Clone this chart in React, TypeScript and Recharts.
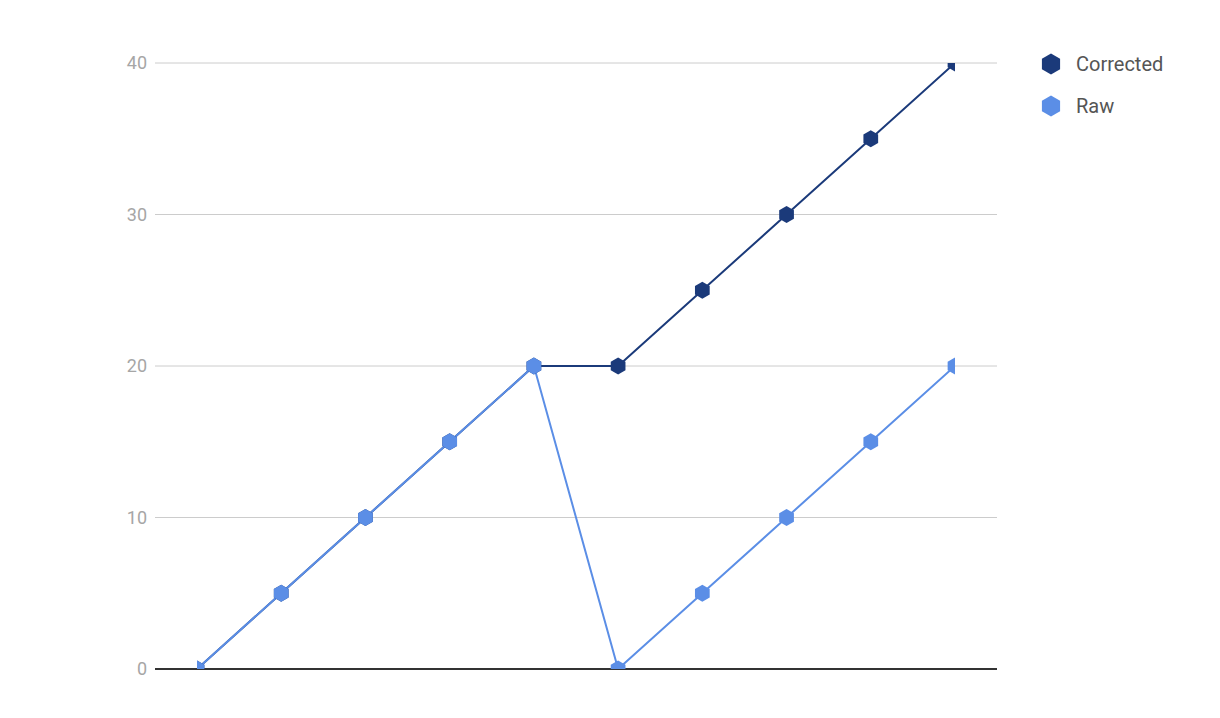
import React from 'react';
import { LineChart, Line, XAxis, YAxis, CartesianGrid } from 'recharts';

const categories = ['1', '2', '3', '4', '5', '6', '7', '8', '9', '10'];
const correctedValues = [0, 5, 10, 15, 20, 20, 25, 30, 35, 40];
const rawValues = [0, 5, 10, 15, 20, 0, 5, 10, 15, 20];
const yTicks = [0, 10, 20, 30, 40];
const seriesNames = ['Corrected', 'Raw'];
const seriesColors = ['#1b3a7a', '#5b8ee6'];

const data = categories.map((c, i) => ({
  name: c,
  corrected: correctedValues[i],
  raw: rawValues[i],
}));

const hexPoints = (cx: number, cy: number, r: number) => {
  const pts: string[] = [];
  for (let k = 0; k < 6; k++) {
    const a = (Math.PI / 3) * k - Math.PI / 2;
    pts.push(`${cx + r * Math.cos(a)},${cy + r * Math.sin(a)}`);
  }
  return pts.join(' ');
};

const HexDot = (color: string) => (props: any) => {
  const { cx, cy, index } = props;
  if (cx == null || cy == null) return <g key={index} />;
  return <polygon key={index} points={hexPoints(cx, cy, 8.5)} fill={color} stroke="none" />;
};

export default function App() {
  return (
    <div style={{ position: 'absolute', left: 0, top: 0, width: 1220, height: 718, background: '#fff', fontFamily: 'Roboto, sans-serif' }}>
      <LineChart width={1220} height={718} data={data} margin={{ top: 63, right: 223, bottom: 48, left: 95 }}>
        <CartesianGrid vertical={false} stroke="#cccccc" strokeWidth={1} />
        <XAxis
          dataKey="name"
          tick={false}
          tickLine={false}
          axisLine={{ stroke: '#333333', strokeWidth: 2 }}
          height={1}
          padding={{ left: 42, right: 42 }}
          allowDataOverflow
        />
        <YAxis
          domain={[0, 40]}
          ticks={yTicks}
          allowDataOverflow
          axisLine={false}
          tickLine={false}
          width={60}
          tickMargin={2}
          tick={{ fill: '#a6a6a6', fontSize: 18, fontFamily: 'Roboto, sans-serif' }}
        />
        <Line
          dataKey="corrected"
          name={seriesNames[0]}
          stroke={seriesColors[0]}
          strokeWidth={2}
          dot={HexDot(seriesColors[0])}
          activeDot={false}
          isAnimationActive={false}
        />
        <Line
          dataKey="raw"
          name={seriesNames[1]}
          stroke={seriesColors[1]}
          strokeWidth={2}
          dot={HexDot(seriesColors[1])}
          activeDot={false}
          isAnimationActive={false}
        />
      </LineChart>
      <div style={{ position: 'absolute', left: 1040, top: 52 }}>
        {seriesNames.map((n, i) => (
          <div key={n} style={{ display: 'flex', alignItems: 'center', height: 24, marginBottom: 18 }}>
            <svg width={22} height={24} style={{ marginRight: 14 }}>
              <polygon points={hexPoints(11, 12, 10.5)} fill={seriesColors[i]} />
            </svg>
            <span style={{ fontSize: 20, color: '#555555', fontFamily: 'Roboto, sans-serif' }}>{n}</span>
          </div>
        ))}
      </div>
    </div>
  );
}
